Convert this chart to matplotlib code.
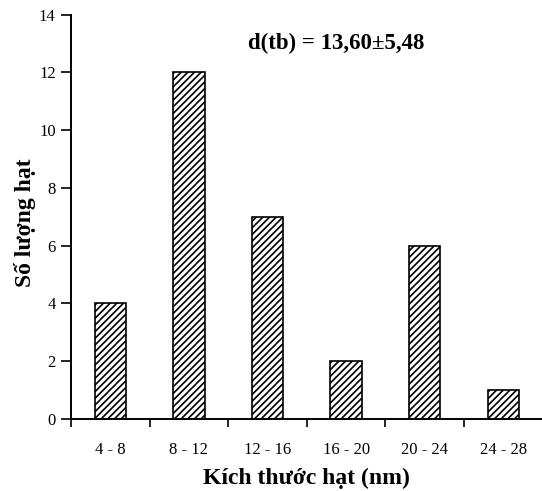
import matplotlib
matplotlib.use("Agg")
import matplotlib.pyplot as plt

# particle size distribution
categories = ["4 - 8", "8 - 12", "12 - 16", "16 - 20", "20 - 24", "24 - 28"]
counts = [4, 12, 7, 2, 6, 1]
y_ticks = [0, 2, 4, 6, 8, 10, 12, 14]

plt.rcParams["font.family"] = ["Liberation Serif", "DejaVu Serif"]
plt.rcParams["hatch.linewidth"] = 1.2

fig = plt.figure(figsize=(5.42, 4.91), dpi=100)
ax = fig.add_axes([0.131, 0.147, 0.87, 0.823])

xpos = list(range(len(categories)))
ax.bar(xpos, counts, width=0.4, color="white", edgecolor="black",
       linewidth=1.2, hatch="/////")

ax.set_xlim(-0.5, len(categories) - 0.5)
ax.set_ylim(0, 14)
ax.set_yticks(y_ticks)
ax.set_yticklabels([str(v) for v in y_ticks], fontsize=12)

# ticks between categories, labels centred under the bars
ax.set_xticks([i - 0.5 for i in range(len(categories) + 1)])
ax.set_xticklabels([])
ax.set_xticks(xpos, minor=True)
ax.set_xticklabels(categories, minor=True, fontsize=12)
ax.tick_params(axis="x", which="minor", length=0, pad=17)
ax.tick_params(axis="x", which="major", length=6, width=1.2, direction="out")
ax.tick_params(axis="y", length=7, width=1.2, direction="out", pad=4)

for s in ["top", "right"]:
    ax.spines[s].set_visible(False)
for s in ["left", "bottom"]:
    ax.spines[s].set_linewidth(1.4)

ax.set_xlabel("Kích thước hạt (nm)", fontsize=17, fontweight="bold", labelpad=7)
ax.set_ylabel("Số lượng hạt", fontsize=17, fontweight="bold")
ax.yaxis.set_label_coords(-0.074, 0.485)

ax.text(0.375, 0.93, "d(tb) = 13,60±5,48", transform=ax.transAxes,
        fontsize=16.5, fontweight="bold", ha="left", va="center")

fig.savefig("out.png", dpi=100)
